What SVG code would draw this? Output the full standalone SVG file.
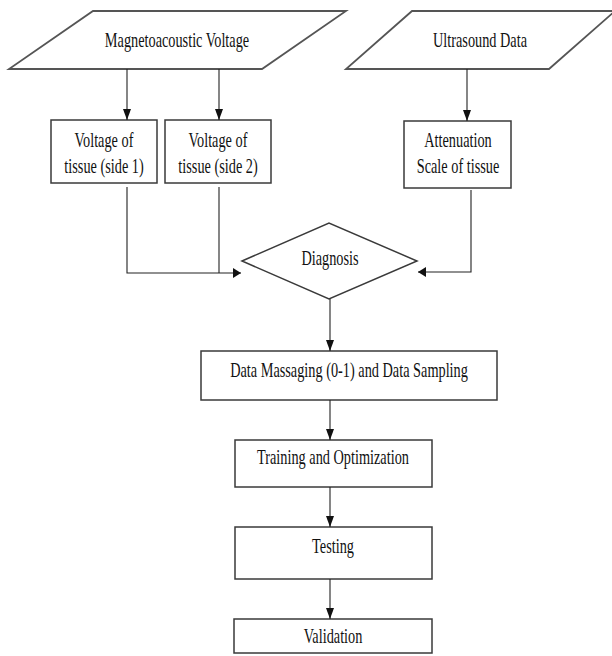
<svg xmlns="http://www.w3.org/2000/svg" width="612" height="656" viewBox="0 0 612 656">
<style>
.shape{fill:#fff;stroke:#3a3a3a;stroke-width:1.5}
.io{fill:#fff;stroke:#555;stroke-width:1.8}
.lbl{font-family:"Liberation Serif","Times New Roman",serif;font-size:14.3px;fill:#111;text-anchor:middle}
.con{fill:none;stroke:#222;stroke-width:1.1}
</style>
<defs>
<marker id="av" markerUnits="userSpaceOnUse" markerWidth="13" markerHeight="10" refX="11" refY="4" orient="auto">
<path d="M0,0 L11,4 L0,8 Z" fill="#111"/>
</marker>
<marker id="ah" markerUnits="userSpaceOnUse" markerWidth="10" markerHeight="12" refX="8" refY="5" orient="auto">
<path d="M0,0 L8,5 L0,10 Z" fill="#111"/>
</marker>
</defs>
<rect width="612" height="656" fill="#fff"/>
<g id="magneto">
<polygon class="io" points="93,11 346,11 262,69 9,69"/>
<text class="lbl" transform="translate(177,47) scale(1,1.5)">Magnetoacoustic Voltage</text>
</g>
<g id="ultrasound">
<polygon class="io" points="412,11 615,11 549,69 346,69"/>
<text class="lbl" transform="translate(480,47) scale(1,1.5)">Ultrasound Data</text>
</g>
<g id="side1">
<rect class="shape" x="51" y="120" width="106" height="63"/>
<text class="lbl" transform="translate(104,147) scale(1,1.5)">Voltage of</text>
<text class="lbl" transform="translate(104,173) scale(1,1.5)">tissue (side 1)</text>
</g>
<g id="side2">
<rect class="shape" x="165" y="120" width="106" height="63"/>
<text class="lbl" transform="translate(218,147) scale(1,1.5)">Voltage of</text>
<text class="lbl" transform="translate(218,173) scale(1,1.5)">tissue (side 2)</text>
</g>
<g id="attenuation">
<rect class="shape" x="404" y="121" width="107" height="67"/>
<text class="lbl" transform="translate(458,147) scale(1,1.5)">Attenuation</text>
<text class="lbl" transform="translate(458,173) scale(1,1.5)">Scale of tissue</text>
</g>
<g id="diagnosis">
<polygon class="shape" points="242,261 329,223 417,261 329,299"/>
<text class="lbl" transform="translate(330,265) scale(1,1.5)">Diagnosis</text>
</g>
<g id="massaging">
<rect class="shape" x="201" y="351" width="296" height="49"/>
<text class="lbl" transform="translate(349,377) scale(1,1.5)">Data Massaging (0-1) and Data Sampling</text>
</g>
<g id="training">
<rect class="shape" x="235" y="440" width="197" height="47"/>
<text class="lbl" transform="translate(333,464) scale(1,1.5)">Training and Optimization</text>
</g>
<g id="testing">
<rect class="shape" x="235" y="527" width="197" height="52"/>
<text class="lbl" transform="translate(333,553) scale(1,1.5)">Testing</text>
</g>
<g id="validation">
<rect class="shape" x="234" y="619" width="198" height="34"/>
<text class="lbl" transform="translate(333,643) scale(1,1.5)">Validation</text>
</g>
<g id="connectors">
<path class="con" d="M127,69 V120" marker-end="url(#av)"/>
<path class="con" d="M219,69 V120" marker-end="url(#av)"/>
<path class="con" d="M467,69 V121" marker-end="url(#av)"/>
<path class="con" d="M127,187 V273 H241" marker-end="url(#ah)"/>
<path class="con" d="M219,187 V273"/>
<path class="con" d="M471,190 V272 H418" marker-end="url(#ah)"/>
<path class="con" d="M330,299 V351" marker-end="url(#av)"/>
<path class="con" d="M330,400 V440" marker-end="url(#av)"/>
<path class="con" d="M330,487 V527" marker-end="url(#av)"/>
<path class="con" d="M330,579 V619" marker-end="url(#av)"/>
</g>
</svg>
